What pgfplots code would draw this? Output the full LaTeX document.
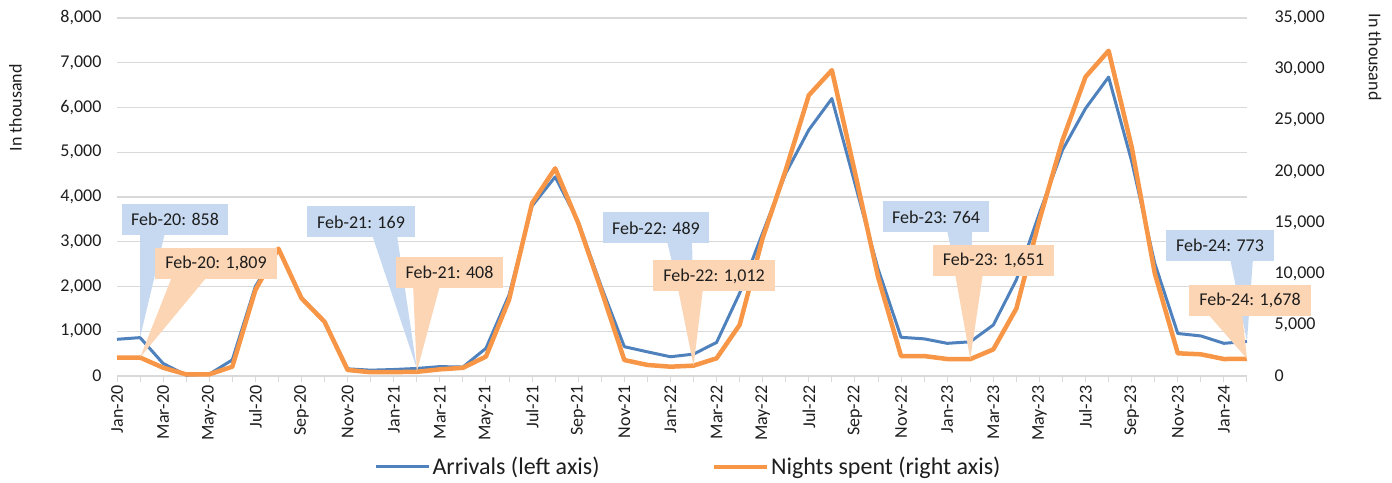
\documentclass[border=0pt]{standalone}
\usepackage{pgfplots}
\usepackage{pgfplotstable}
\pgfplotsset{compat=1.18}
\usepackage{fontspec}
\setmainfont{Carlito}
\definecolor{blueline}{RGB}{79,129,189}
\definecolor{orangeline}{RGB}{247,150,70}
\definecolor{bluefill}{RGB}{198,217,240}
\definecolor{orangefill}{RGB}{252,213,180}
\definecolor{gridc}{RGB}{217,217,217}
\definecolor{txt}{RGB}{30,30,30}
\pgfplotstableread{
m arr nights
0 820 1790
1 858 1809
2 280 810
3 20 160
4 40 160
5 360 910
6 2000 8400
7 2840 12450
8 1750 7600
9 1220 5300
10 160 590
11 130 370
12 145 380
13 169 408
14 210 650
15 200 800
16 620 1900
17 1810 7450
18 3800 16900
19 4450 20300
20 3450 14950
21 2000 8400
22 655 1560
23 540 1080
24 430 910
25 489 1012
26 750 1730
27 1850 5000
28 3200 13500
29 4530 20150
30 5500 27450
31 6200 29900
32 4300 19900
33 2400 9700
34 865 1950
35 830 1950
36 730 1660
37 764 1651
38 1140 2600
39 2150 6600
40 3640 15250
41 5050 23050
42 5980 29250
43 6680 31800
44 4800 22400
45 2520 10050
46 950 2220
47 895 2120
48 730 1660
49 773 1678
}\data
\begin{document}
\begin{tikzpicture}
\path[use as bounding box] (0,0) rectangle (1392pt,482pt);
\begin{axis}[
  at={(117pt,106pt)}, anchor=south west,
  scale only axis, width=1130pt, height=358pt,
  xmin=0, xmax=49, ymin=0, ymax=8000,
  ytick={0,1000,...,8000},
  ymajorgrids, grid style={gridc, line width=1.3pt},
  axis x line*=bottom, axis y line*=left,
  y axis line style={draw=none},
  x axis line style={gridc, line width=1.3pt, -},
  xtick={0,...,49},
  xticklabels={Jan-20,,Mar-20,,May-20,,Jul-20,,Sep-20,,Nov-20,,Jan-21,,Mar-21,,May-21,,Jul-21,,Sep-21,,Nov-21,,Jan-22,,Mar-22,,May-22,,Jul-22,,Sep-22,,Nov-22,,Jan-23,,Mar-23,,May-23,,Jul-23,,Sep-23,,Nov-23,,Jan-24,},
  xtick style={gridc, line width=1pt},
  ytick style={draw=none},
  major tick length=6pt, tick align=outside,
  xticklabel style={rotate=90, anchor=east, font=\fontsize{18}{20}\selectfont, text=txt},
  yticklabel style={font=\fontsize{18}{20}\selectfont, text=txt, xshift=-6pt},
  scaled y ticks=false,
  /pgf/number format/assume math mode=true,
  /pgf/number format/1000 sep={,},
  clip=false,
]
\addplot[blueline, line width=3pt, line join=round] table[x=m,y=arr]{\data};
\node[rotate=90, font=\fontsize{18}{20}\selectfont, text=txt] at (rel axis cs:-0.0898,0.749) {In thousand};
\node[rotate=-90, font=\fontsize{18}{20}\selectfont, text=txt] at (rel axis cs:1.1133,0.891) {In thousand};
\end{axis}
\begin{axis}[
  at={(117pt,106pt)}, anchor=south west,
  scale only axis, width=1130pt, height=358pt,
  xmin=0, xmax=49, ymin=0, ymax=35000,
  ytick={0,5000,...,35000},
  axis x line=none, axis y line*=right,
  y axis line style={draw=none},
  ytick style={draw=none},
  major tick length=6pt, tick align=outside,
  yticklabel style={font=\fontsize{18}{20}\selectfont, text=txt, xshift=18pt},
  scaled y ticks=false,
  /pgf/number format/assume math mode=true,
  /pgf/number format/1000 sep={,},
  clip=false,
  legend style={at={(0.5058,-0.254)}, anchor=center, draw=none, fill=none,
    font=\fontsize{24}{28}\selectfont, text=txt, legend columns=2,
    /tikz/every even column/.append style={column sep=110pt}},
  legend image code/.code={\draw[#1] (0pt,0pt) -- (53pt,0pt);},
]
\addlegendimage{blueline, line width=3pt}
\addlegendentry{Arrivals (left axis)}
\addplot[orangeline, line width=4.5pt, line join=round] table[x=m,y=nights]{\data};
\addlegendentry{Nights spent (right axis)}
% blue callouts
\tikzset{cb/.style={fill=bluefill, minimum height=31pt, inner sep=0pt, font=\fontsize{18}{20}\selectfont, text=txt},
         co/.style={fill=orangefill, minimum height=31pt, inner sep=0pt, font=\fontsize{18}{20}\selectfont, text=txt}}
\fill[bluefill] (axis cs:1.0,14000) -- (axis cs:1,3754) -- (axis cs:2.08,14000) -- cycle;
\node[cb, minimum width=106pt] at (axis cs:2.515,15300) {Feb-20: 858};
\fill[bluefill] (axis cs:11.06,13800) -- (axis cs:13,739) -- (axis cs:12.14,13800) -- cycle;
\node[cb, minimum width=108pt] at (axis cs:10.58,15056) {Feb-21: 169};
\fill[bluefill] (axis cs:23.85,13200) -- (axis cs:25,2139) -- (axis cs:24.94,13200) -- cycle;
\node[cb, minimum width=106pt] at (axis cs:23.37,14470) {Feb-22: 489};
\fill[bluefill] (axis cs:35.99,14300) -- (axis cs:37,3342) -- (axis cs:37.08,14300) -- cycle;
\node[cb, minimum width=106pt] at (axis cs:35.52,15545) {Feb-23: 764};
\fill[bluefill] (axis cs:48.27,11450) -- (axis cs:49,3382) -- (axis cs:49.26,11450) -- cycle;
\node[cb, minimum width=108pt] at (axis cs:47.83,12759) {Feb-24: 773};
% orange callouts
\fill[orangefill] (axis cs:2.385,9700) -- (axis cs:1,1809) -- (axis cs:3.903,9700) -- cycle;
\node[co, minimum width=122pt] at (axis cs:4.293,11000) {Feb-20: 1,809};
\fill[orangefill] (axis cs:12.84,8800) -- (axis cs:13,408) -- (axis cs:14.0,8800) -- cycle;
\node[co, minimum width=107pt] at (axis cs:14.42,10119) {Feb-21: 408};
\fill[orangefill] (axis cs:24.33,8500) -- (axis cs:25,1012) -- (axis cs:25.41,8500) -- cycle;
\node[co, minimum width=122pt] at (axis cs:25.89,9777) {Feb-22: 1,012};
\fill[orangefill] (axis cs:36.34,10000) -- (axis cs:37,1651) -- (axis cs:37.55,10000) -- cycle;
\node[co, minimum width=121pt] at (axis cs:38.01,11292) {Feb-23: 1,651};
\fill[orangefill] (axis cs:47.31,6050) -- (axis cs:49,1678) -- (axis cs:48.79,6050) -- cycle;
\node[co, minimum width=122pt] at (axis cs:49.13,7381) {Feb-24: 1,678};
\end{axis}
\end{tikzpicture}
\end{document}
